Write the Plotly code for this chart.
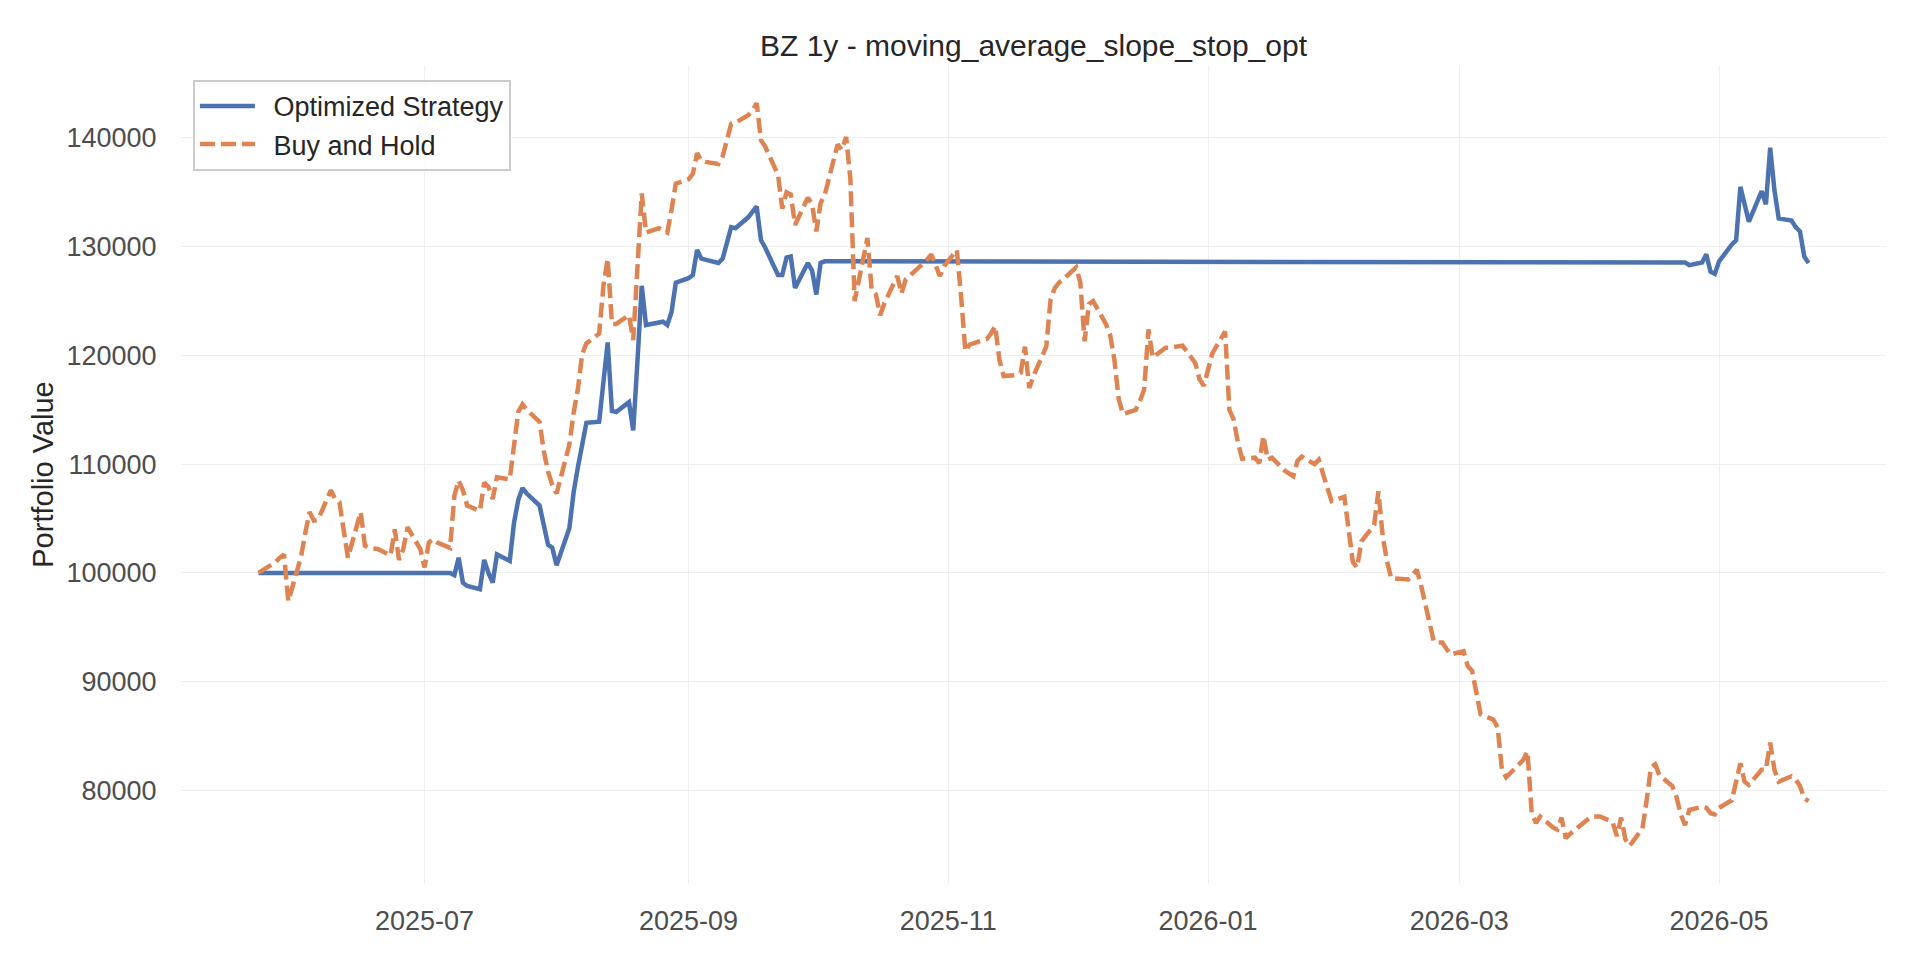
import pandas as pd
import plotly.graph_objects as go

# Trading days covered by the backtest (one year)
dates = pd.bdate_range("2025-05-23", "2026-05-22")

# Portfolio value of the optimized strategy, one row per week
optimized = [
    100000,
    100000, 100000, 100000, 100000, 100000,   # May 26
    100000, 100000, 100000, 100000, 100000,   # Jun 2
    100000, 100000, 100000, 100000, 100000,   # Jun 9
    100000, 100000, 100000, 100000, 100000,   # Jun 16
    100000, 100000, 100000, 100000, 100000,   # Jun 23
    100000, 100000, 100000, 100000, 100000,   # Jun 30
    100000, 99800, 101400, 99100, 98800,      # Jul 7
    98500, 101200, 100000, 99100, 101700,     # Jul 14
    101100, 104600, 106700, 107800, 107300,   # Jul 21
    106200, 104600, 102600, 102300, 100700,   # Jul 28
    104100, 107400, 109700, 111900, 113800,   # Aug 4
    113900, 117900, 121200, 114900, 114800,   # Aug 11
    115700, 113100, 119500, 126400, 122800,   # Aug 18
    123000, 123100, 122800, 124000, 126700,   # Aug 25
    127100, 127400, 129700, 128900, 128800,   # Sep 1
    128500, 128900, 130500, 131800, 131700,   # Sep 8
    132700, 133200, 133700, 130600, 129900,   # Sep 15
    127400, 127400, 129000, 129100, 126200,   # Sep 22
    128500, 127800, 125600, 128500, 128650,   # Sep 29
    # out of the market from October to late April
    128650, 128650, 128650, 128650, 128650, 128650, 128650, 128650, 128650, 128650,
    128650, 128650, 128650, 128650, 128650, 128650, 128650, 128650, 128650, 128650,
    128650, 128650, 128650, 128650, 128650, 128650, 128650, 128650, 128650, 128650,
    128650, 128650, 128650, 128650, 128650, 128650, 128650, 128650, 128650, 128650,
    128650, 128650, 128650, 128650, 128650, 128650, 128650, 128650, 128650, 128650,
    128650, 128650, 128650, 128650, 128650, 128650, 128650, 128650, 128650, 128650,
    128650, 128650, 128650, 128650, 128650, 128650, 128650, 128650, 128650, 128650,
    128650, 128650, 128650, 128650, 128650, 128650, 128650, 128650, 128650, 128650,
    128650, 128650, 128650, 128650, 128650, 128650, 128650, 128650, 128650, 128650,
    128650, 128650, 128650, 128650, 128650, 128650, 128650, 128650, 128650, 128650,
    128650, 128650, 128650, 128650, 128650, 128650, 128650, 128650, 128650, 128650,
    128650, 128650, 128650, 128650, 128650, 128650, 128650, 128650, 128650, 128650,
    128650, 128650, 128650, 128650, 128650, 128650, 128650, 128650, 128650, 128650,
    128650, 128650, 128650, 128650, 128650, 128650, 128650, 128650, 128650, 128650,
    128650, 128650, 128650, 128550, 128300,   # Apr 20
    128550, 129300, 127700, 127500, 128650,   # Apr 27
    130200, 130600, 135500, 134000, 132300,   # May 4
    135100, 133900, 139100, 135200, 132600,   # May 11
    132400, 131800, 131400, 129100, 128500,   # May 18
]

# Buy and hold benchmark
buy_hold = [
    100000,
    100700, 101000, 101400, 101700, 97400,    # May 26
    101500, 103700, 105600, 104800, 104900,   # Jun 2
    107600, 106800, 106500, 103700, 101400,   # Jun 9
    105600, 102500, 102300, 102300, 102200,   # Jun 16
    101600, 104000, 101200, 102200, 104200,   # Jun 23
    102200, 100500, 102800, 103100, 102800,   # Jun 30
    102300, 107100, 108500, 107600, 106200,   # Jul 7
    105700, 108300, 107900, 106800, 108800,   # Jul 14
    108600, 112100, 114800, 115500, 115000,   # Jul 21
    113900, 111200, 109300, 108100, 107300,   # Jul 28
    111800, 114700, 116900, 120100, 121100,   # Aug 4
    122000, 126400, 128900, 122900, 122900,   # Aug 11
    123700, 121400, 127700, 134900, 131300,   # Aug 18
    131700, 131500, 131300, 133400, 135800,   # Aug 25
    136200, 136700, 138600, 137900, 137800,   # Sep 1
    137600, 138300, 140000, 141300, 141400,   # Sep 8
    142100, 142500, 143200, 139800, 139200,   # Sep 15
    136600, 133500, 135000, 134800, 132000,   # Sep 22
    134500, 133900, 131400, 134000, 134800,   # Sep 29
    139400, 138900, 140100, 136200, 125000,   # Oct 6
    130800, 126000, 125600, 123700, 124800,   # Oct 13
    127300, 125700, 127000, 127400, 127700,   # Oct 20
    128800, 129300, 128300, 127300, 128200,   # Oct 27
    129700, 125400, 120400, 121000, 121100,   # Nov 3
    121500, 122000, 122700, 119600, 118100,   # Nov 10
    118200, 118400, 120800, 117000, 118100,   # Nov 17
    120800, 125100, 126200, 126700, 127000,   # Nov 24
    128100, 126700, 121300, 124700, 125000,   # Dec 1
    122900, 121900, 119600, 116000, 114600,   # Dec 8
    115000, 115800, 116900, 122400, 119800,   # Dec 15
    120700, 120700, 120800, 120900, 120900,   # Dec 22
    119300, 117800, 117200, 118900, 120200,   # Dec 29
    122200, 115000, 114100, 112000, 110500,   # Jan 5
    110600, 110100, 112600, 110400, 110600,   # Jan 12
    109400, 109200, 108900, 110300, 110700,   # Jan 19
    110000, 110400, 109100, 108000, 106600,   # Jan 26
    107000, 103800, 101000, 100500, 102900,   # Feb 2
    104400, 107500, 103400, 101100, 99500,    # Feb 9
    99400, 99400, 99800, 100300, 98900,       # Feb 16
    93700, 93600, 93600, 93000, 92500,        # Feb 23
    92800, 91400, 91000, 88700, 87000,        # Mar 2
    86500, 85800, 81900, 81200, 81600,        # Mar 9
    82800, 83600, 77900, 77000, 77600,        # Mar 16
    76600, 76400, 77500, 75600, 76000,        # Mar 23
    77000, 77300, 77600, 77600, 77600,        # Mar 30
    77100, 75800, 77500, 75500, 74900,        # Apr 6
    76500, 79100, 82100, 82400, 81400,        # Apr 13
    80400, 79400, 77800, 76800, 78200,        # Apr 20
    78500, 78400, 77900, 77800, 78400,        # Apr 27
    79100, 81000, 82500, 80800, 80500,        # May 4
    81900, 81900, 84400, 81900, 80800,        # May 11
    81300, 81000, 80400, 79300, 79000,        # May 18
]

assert len(optimized) == len(dates) == len(buy_hold)

x_ticks = ["2025-07-01", "2025-09-01", "2025-11-01", "2026-01-01", "2026-03-01", "2026-05-01"]
y_ticks = [80000, 90000, 100000, 110000, 120000, 130000, 140000]

fig = go.Figure()
# en space in the names pushes the text away from the line sample, like matplotlib's legend
fig.add_trace(go.Scatter(x=dates, y=optimized, mode="lines", name="\u2002Optimized Strategy",
                         line=dict(color="#4c72b0", width=4.5)))
fig.add_trace(go.Scatter(x=dates, y=buy_hold, mode="lines", name="\u2002Buy and Hold",
                         line=dict(color="#dd8452", width=4.5, dash="15px,6px")))

# matplotlib-style 5% padding around the data
span = dates[-1] - dates[0]
lo = min(min(optimized), min(buy_hold))
hi = max(max(optimized), max(buy_hold))
pad = (hi - lo) * 0.05

font = "Liberation Sans, Arial, sans-serif"
# the page body adds 8px on the top and left, margins below account for it
fig.update_layout(
    width=1920, height=960,
    margin=dict(l=173, r=42, t=58, b=85),
    paper_bgcolor="white", plot_bgcolor="white",
    font=dict(family=font, size=27, color="#262626"),
    title=dict(text="BZ 1y - moving_average_slope_stop_opt", x=0.5, xref="paper",
               y=1 - 37 / 960, yref="container", yanchor="middle",
               font=dict(size=30, color="#262626")),
    showlegend=True,
    legend=dict(x=0.007, y=0.983, xanchor="left", yanchor="top",
                bgcolor="rgba(255,255,255,0.8)", bordercolor="#cccccc", borderwidth=2,
                font=dict(size=27, color="#262626"), itemwidth=55,
                tracegroupgap=0),
)
fig.update_xaxes(
    range=[dates[0] - span * 0.05, dates[-1] + span * 0.05],
    tickvals=x_ticks, tickformat="%Y-%m",
    showgrid=True, gridcolor="#efefef", gridwidth=1,
    zeroline=False, showline=False,
    ticks="outside", ticklen=14, tickcolor="rgba(0,0,0,0)",
    tickfont=dict(size=27, color="#4d4d4d"), automargin=False,
)
fig.update_yaxes(
    range=[lo - pad, hi + pad],
    tickvals=y_ticks, tickformat="d",
    showgrid=True, gridcolor="#efefef", gridwidth=1,
    zeroline=False, showline=False,
    ticks="outside", ticklen=18, tickcolor="rgba(0,0,0,0)",
    tickfont=dict(size=27, color="#4d4d4d"), automargin=False,
    title=dict(text="Portfolio Value", standoff=4, font=dict(size=29, color="#262626")),
)

fig.write_html("out.html")
